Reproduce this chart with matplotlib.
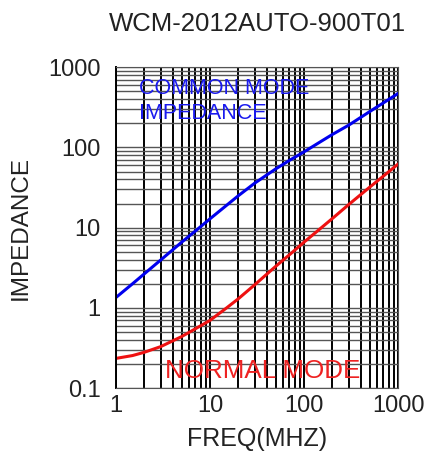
import matplotlib.pyplot as plt
from matplotlib.ticker import LogLocator, NullFormatter, FixedLocator, FixedFormatter

plt.rcParams['font.family'] = ['Liberation Sans', 'DejaVu Sans']

# values
freq = [1, 1.5, 2, 3, 5, 7, 10, 15, 20, 30, 50, 70, 100, 150, 200, 300, 500, 700, 1000]
common_mode = [1.35, 2.0, 2.66, 3.97, 6.6, 9.1, 12.9, 19.0, 25.0, 36, 54, 69, 88, 118, 145, 190, 280, 360, 470]
normal_mode = [0.235, 0.255, 0.28, 0.33, 0.44, 0.55, 0.70, 1.0, 1.3, 1.95, 3.3, 4.6, 6.6, 9.8, 13, 19.5, 32, 44, 62]

x_ticks = [1, 10, 100, 1000]
x_labels = ['1', '10', '100', '1000']
y_ticks = [0.1, 1, 10, 100, 1000]
y_labels = ['0.1', '1', '10', '100', '1000']

fig = plt.figure(figsize=(4.28, 4.54), dpi=100)
ax = fig.add_axes([0.271, 0.145, 0.659, 0.707])

ax.set_xscale('log')
ax.set_yscale('log')
ax.set_xlim(1, 1000)
ax.set_ylim(0.1, 1000)

ax.xaxis.set_major_locator(FixedLocator(x_ticks))
ax.xaxis.set_major_formatter(FixedFormatter(x_labels))
ax.yaxis.set_major_locator(FixedLocator(y_ticks))
ax.yaxis.set_major_formatter(FixedFormatter(y_labels))
ax.xaxis.set_minor_locator(LogLocator(base=10, subs=range(2, 10), numticks=20))
ax.yaxis.set_minor_locator(LogLocator(base=10, subs=range(2, 10), numticks=20))
ax.xaxis.set_minor_formatter(NullFormatter())
ax.yaxis.set_minor_formatter(NullFormatter())

ax.grid(True, axis='x', which='both', color='black', linewidth=1.4)
ax.grid(True, axis='y', which='both', color='#555555', linewidth=1.0)
ax.tick_params(which='both', length=0, labelsize=17, labelcolor='#222222')
ax.tick_params(axis='y', pad=11)
ax.tick_params(axis='x', pad=5)
for s in ax.spines.values():
    s.set_color('#555555')
ax.spines['left'].set_color('black')
ax.spines['left'].set_linewidth(1.4)

ax.plot(freq, common_mode, color='#0000ee', linewidth=2.2)
ax.plot(freq, normal_mode, color='#ee1111', linewidth=2.2)

ax.text(1.75, 740, 'COMMON MODE\nIMPEDANCE', color='#1a1aee', fontsize=15.5,
        va='top', ha='left', linespacing=1.25)
ax.text(3.3, 0.165, 'NORMAL MODE', color='#ee2222', fontsize=18.7, va='center', ha='left')

ax.set_xlabel('FREQ(MHZ)', fontsize=18, labelpad=7, color='#222222')
ax.set_ylabel('IMPEDANCE', fontsize=17.5, labelpad=12, color='#222222')
ax.set_title('WCM-2012AUTO-900T01', fontsize=18.5, pad=26, color='#222222')

fig.savefig('out.png', dpi=100)
